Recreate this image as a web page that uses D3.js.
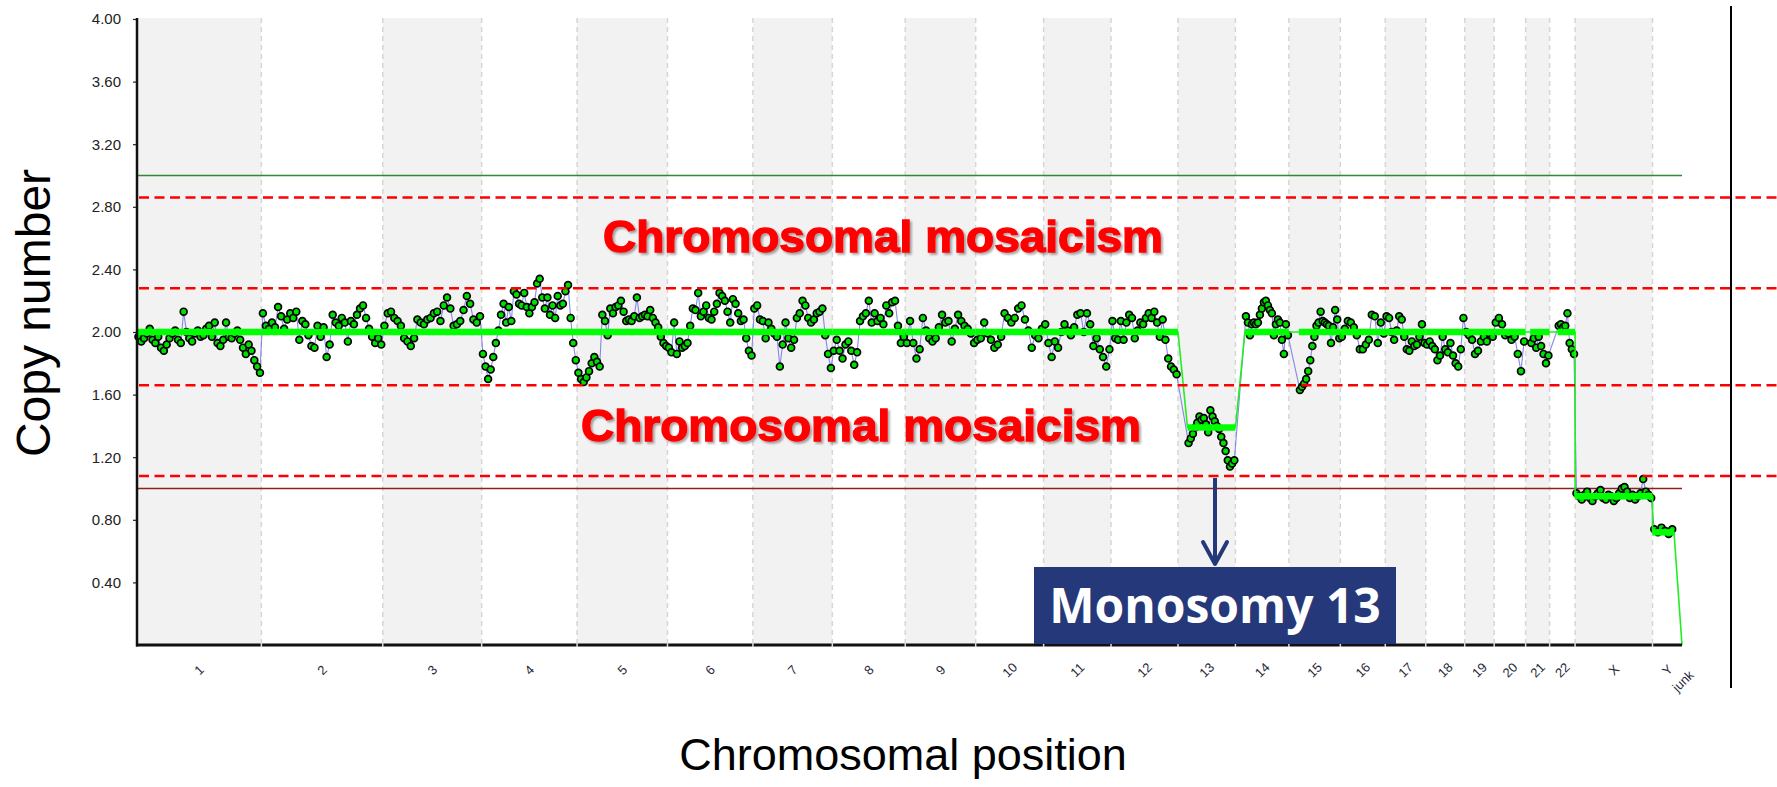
<!DOCTYPE html>
<html>
<head>
<meta charset="utf-8">
<script src="https://cdn.jsdelivr.net/npm/d3@7"></script>
<style>
  body { margin: 0; background: #fff; }
  svg { display: block; }
</style>
</head>
<body>
<div id="chart"></div>
<script>
// chromosome names and lengths (Mb)
var chromNames = ["1","2","3","4","5","6","7","8","9","10","11","12","13","14","15","16","17","18","19","20","21","22","X","Y"];
var chromSizes = [249,243,198,191,181,171,159,146,141,136,135,134,115,107,103,90,81,78,59,63,48,51,155,59];
// probe coverage inside each chromosome (Mb); acrocentric p-arms have none
var dataStart = [0,0,0,0,0,0,0,0,0,0,0,0,19,19,20,0,0,0,0,0,9,16,0,0];
var dataEnd   = [249,243,198,191,181,171,159,146,141,136,135,134,115,107,103,90,81,78,59,63,48,51,155,43];
// segmented copy number per chromosome
var segValues = [2,2,2,2,2,2,2,2,2,2,2,2,1.39,2,2,2,2,2,2,2,2,2,0.95,0.72];

// probe copy numbers
var cn1 = [1.97,1.94,1.96,1.99,2.02,1.95,1.93,1.97,1.90,1.88,1.92,1.96,1.99,2.01,1.95,1.93,2.13,2.00,1.96,1.94,1.99,2.01,1.97,1.98,2.02,2.04,1.97,2.06,1.93,1.91,1.95,2.06,1.97,1.96,1.99,2.01,1.95,1.90,1.86,1.92,1.88,1.82,1.78,1.74];
var cn2 = [2.12,2.04,2.02,2.06,2.03,2.16,2.10,2.02,2.08,2.12,2.09,2.13,1.95,2.07,2.05,1.98,1.91,1.90,2.04,1.97,2.03,1.84,1.92,2.11,2.06,2.04,2.09,2.06,1.94,2.07,2.05,2.11,2.15,2.17,2.09,2.02,1.97,1.93,1.96,1.92];
var cn3 = [2.04,2.12,2.13,2.09,2.07,2.04,1.96,1.94,1.91,1.96,2.08,2.06,2.05,2.08,2.09,2.12,2.13,2.07,2.17,2.22,2.15,2.04,2.05,2.07,2.14,2.23,2.18,2.08,2.06,2.10];
var cn4 = [1.86,1.78,1.70,1.76,1.84,1.93,2.01,2.11,2.18,2.06,2.16,2.07,2.26,2.24,2.18,2.17,2.25,2.16,2.12,2.16,2.19,2.31,2.34,2.22,2.15,2.22,2.11,2.17,2.09,2.23,2.17,2.18,2.26,2.30,2.09,1.93,1.82];
var cn5 = [1.74,1.70,1.68,1.71,1.75,1.80,1.84,1.81,1.78,2.11,2.07,1.98,2.15,2.12,2.16,2.17,2.20,2.13,2.07,2.08,2.07,2.10,2.22,2.09,2.10,2.11,2.10,2.14,2.09,2.06,2.03,1.97,1.93,1.91];
var cn6 = [1.90,1.87,2.06,1.86,1.94,1.90,1.91,1.93,2.04,2.15,2.14,2.25,2.10,2.13,2.17,2.09,2.08,2.13,2.18,2.25,2.23,2.20,2.13,2.06,2.21,2.18,2.12,2.07,2.08,1.96,1.88,1.85];
var cn7 = [2.15,2.17,2.08,2.07,1.96,2.06,2.02,1.99,1.97,1.78,1.92,2.06,1.96,1.90,1.95,2.09,2.12,2.20,2.17,2.09,2.06,2.08,2.12,2.13,2.15,1.98,1.86,1.77];
var cn8 = [1.88,1.95,1.88,1.83,1.92,1.94,1.88,1.79,1.87,2.07,2.10,2.12,2.20,2.06,2.12,2.07,2.09,2.05,2.17,2.12,2.19,2.20,2.04,1.93,1.97];
var cn9 = [1.93,2.07,1.93,1.83,1.89,2.09,2.01,1.96,1.94,1.96,2.03,2.11,2.06,2.07,1.94,2.02,2.11,2.07,2.04,2.02,1.99,1.93];
var cn10 = [1.95,1.96,2.06,1.99,1.95,1.90,1.92,1.97,2.12,2.09,2.06,2.09,2.15,2.17,2.08,2.01,1.90,1.98,1.96,2.02];
var cn11 = [2.05,1.93,1.84,1.94,1.90,2.00,2.05,2.01,1.98,2.03,2.11,2.12,2.00,2.12,2.05,1.91,1.96,1.89,1.84,1.78,1.89];
var cn12 = [2.07,1.96,1.95,2.07,1.95,2.06,2.11,2.09,1.96,2.01,2.06,2.05,2.09,2.12,2.09,2.13,2.06,1.97,2.08,1.95,1.83,1.78,1.76,1.73];
var cn13 = [1.29,1.32,1.35,1.39,1.42,1.46,1.44,1.45,1.41,1.36,1.50,1.46,1.43,1.40,1.38,1.33,1.29,1.24,1.18,1.14,1.16,1.18];
var cn14 = [2.10,2.06,1.98,2.05,2.06,2.05,2.06,2.11,2.15,2.19,2.20,2.17,2.14,2.12,1.98,2.05,2.08,2.06,1.95,1.86,2.05,1.98];
var cn15 = [1.63,1.65,1.67,1.70,1.75,1.82,1.91,1.97,2.04,2.06,2.13,2.07,2.06,2.05,2.04,1.93,2.03,2.14,2.08,1.96];
var cn16 = [1.97,2.02,2.07,2.06,2.03,1.98,1.89,1.89,1.92,1.95,2.11,2.10,1.93,2.06,1.99];
var cn17 = [2.10,2.09,2.00,1.95,2.01,2.10,2.08,1.97,1.89,1.88,1.94,1.91,1.92,1.97,2.05,1.93];
var cn18 = [1.92,1.94,1.91,1.89,1.82,1.85,1.97,1.89,1.87,1.93,1.85,1.80,1.78,1.89,2.09];
var cn19 = [2.00,1.98,1.95,1.86,1.88,1.94,1.97,1.94,1.99,1.97];
var cn20 = [2.06,2.09,2.05,1.98,1.99,1.95,1.97,1.86,1.75,1.94];
var cn21 = [1.93,1.96,1.90,1.97,1.91,1.86,1.80,1.85];
var cn22 = [2.04,2.05,2.03,2.04,2.12,1.93,1.89,1.86];
var cnX = [0.97,0.95,0.93,0.96,0.98,0.94,0.92,0.95,0.97,0.99,0.94,0.93,0.96,0.95,0.92,0.94,0.97,1.00,1.01,0.98,0.94,0.96,0.93,0.95,0.97,1.06,0.98,0.96,0.94];
var cnY = [0.74,0.72,0.75,0.73,0.71,0.74];
var chromValues = [cn1,cn2,cn3,cn4,cn5,cn6,cn7,cn8,cn9,cn10,cn11,cn12,cn13,cn14,cn15,cn16,cn17,cn18,cn19,cn20,cn21,cn22,cnX,cnY];

var yTicks = [0.4,0.8,1.2,1.6,2.0,2.4,2.8,3.2,3.6,4.0];
var gainLine = 3.0, lossLine = 1.0;
var mosaicLines = [2.86, 2.28, 1.66, 1.08];
var junkValue = 0;

var width = 1777, height = 787;

var offsets = [0];
chromSizes.forEach(function(s, i) { offsets.push(offsets[i] + s); });
var genome = offsets[offsets.length - 1];

var x = d3.scaleLinear().domain([0, genome]).range([137, 1682]);
var y = d3.scaleLinear().domain([0, 4]).range([645, 19]);

var svg = d3.select("#chart").append("svg")
    .attr("width", width)
    .attr("height", height);

var defs = svg.append("defs");
defs.append("filter").attr("id", "shadow")
    .attr("x", "-5%").attr("y", "-30%").attr("width", "110%").attr("height", "160%")
    .append("feDropShadow")
    .attr("dx", 2).attr("dy", 2).attr("stdDeviation", 1.3)
    .attr("flood-color", "#000").attr("flood-opacity", 0.35);

// alternating chromosome bands
svg.append("g").selectAll("rect")
    .data(chromNames)
    .enter().append("rect")
    .attr("x", (d, i) => x(offsets[i]))
    .attr("y", 18)
    .attr("width", (d, i) => x(offsets[i + 1]) - x(offsets[i]))
    .attr("height", y(0) - 18)
    .attr("fill", (d, i) => i % 2 === 0 ? "#f2f2f2" : "#fff");

// dashed boundaries
svg.append("g").selectAll("line")
    .data(offsets.slice(1, -1))
    .enter().append("line")
    .attr("x1", d => x(d)).attr("x2", d => x(d))
    .attr("y1", 18).attr("y2", y(0))
    .attr("stroke", "#d6d6d6")
    .attr("stroke-width", 1.5)
    .attr("stroke-dasharray", "5,4");

// reference lines at 3 and 1
svg.append("line")
    .attr("x1", x(0)).attr("x2", x(genome))
    .attr("y1", y(gainLine)).attr("y2", y(gainLine))
    .attr("stroke", "#2e8b2e").attr("stroke-width", 1.5);
svg.append("line")
    .attr("x1", x(0)).attr("x2", x(genome))
    .attr("y1", y(lossLine)).attr("y2", y(lossLine))
    .attr("stroke", "#8b2222").attr("stroke-width", 1.6);

// probes
var probes = [];
chromValues.forEach(function(vals, i) {
    var step = (dataEnd[i] - dataStart[i]) / vals.length;
    vals.forEach(function(v, j) {
        probes.push({pos: offsets[i] + dataStart[i] + (j + 0.5) * step, value: v});
    });
});

var line = d3.line().x(d => x(d.pos)).y(d => y(d.value));

svg.append("path")
    .datum(probes)
    .attr("d", line)
    .attr("fill", "none")
    .attr("stroke", "#7373e6")
    .attr("stroke-opacity", 0.85)
    .attr("stroke-width", 1.1);

svg.append("g").selectAll("circle")
    .data(probes)
    .enter().append("circle")
    .attr("cx", d => x(d.pos))
    .attr("cy", d => y(d.value))
    .attr("r", 3.4)
    .attr("fill", "#00e000")
    .attr("stroke", "#000")
    .attr("stroke-width", 1.7);

// segments
var segs = segValues.map(function(v, i) {
    return {x0: offsets[i] + dataStart[i], x1: offsets[i] + dataEnd[i], value: v};
});
var connector = [];
segs.forEach(function(s) {
    connector.push({pos: s.x0, value: s.value});
    connector.push({pos: s.x1, value: s.value});
});
connector.push({pos: genome, value: junkValue});

svg.append("path")
    .datum(connector)
    .attr("d", line)
    .attr("fill", "none")
    .attr("stroke", "#22ee22")
    .attr("stroke-width", 1.6);

svg.append("g").selectAll("line")
    .data(segs)
    .enter().append("line")
    .attr("x1", d => x(d.x0)).attr("x2", d => x(d.x1))
    .attr("y1", d => y(d.value)).attr("y2", d => y(d.value))
    .attr("stroke", "#00ff00")
    .attr("stroke-width", 6.5);

// axes
var yAxis = d3.axisLeft(y)
    .tickValues(yTicks)
    .tickSize(4)
    .tickPadding(12)
    .tickFormat(d3.format(".2f"));
var gy = svg.append("g")
    .attr("transform", `translate(${x(0)},0)`)
    .call(yAxis);
gy.select(".domain").remove();
gy.selectAll(".tick line").attr("stroke", "#222").attr("stroke-width", 1.2);
gy.selectAll(".tick text")
    .attr("fill", "#222")
    .style("font", "15px 'Liberation Sans', Arial, sans-serif");

svg.append("line")
    .attr("x1", x(0)).attr("x2", x(0))
    .attr("y1", 18).attr("y2", y(0) + 1.5)
    .attr("stroke", "#111").attr("stroke-width", 2.5);
svg.append("line")
    .attr("x1", x(0) - 1).attr("x2", x(genome))
    .attr("y1", y(0)).attr("y2", y(0))
    .attr("stroke", "#111").attr("stroke-width", 3);
svg.append("g").selectAll("line")
    .data(offsets.slice(1, -1))
    .enter().append("line")
    .attr("x1", d => x(d)).attr("x2", d => x(d))
    .attr("y1", y(0) - 2).attr("y2", y(0) + 2)
    .attr("stroke", "#ddd").attr("stroke-width", 1.5);

// chromosome labels
svg.append("g").selectAll("text")
    .data(chromNames)
    .enter().append("text")
    .attr("transform", (d, i) => `translate(${x(offsets[i] + chromSizes[i] / 2)},670) rotate(-45)`)
    .attr("text-anchor", "middle")
    .attr("dy", "0.35em")
    .attr("fill", "#2a2a3a")
    .style("font", "13px 'Liberation Sans', Arial, sans-serif")
    .text(d => d);
svg.append("text")
    .attr("transform", `translate(${x(genome) + 1},681) rotate(-45)`)
    .attr("text-anchor", "middle")
    .attr("dy", "0.35em")
    .attr("fill", "#2a2a3a")
    .style("font", "13px 'Liberation Sans', Arial, sans-serif")
    .text("junk");

// frame line on the right
svg.append("line")
    .attr("x1", 1731).attr("x2", 1731)
    .attr("y1", 6).attr("y2", 688)
    .attr("stroke", "#000").attr("stroke-width", 2);

// mosaicism thresholds
svg.append("g").selectAll("line")
    .data(mosaicLines)
    .enter().append("line")
    .attr("x1", x(0) + 2).attr("x2", width)
    .attr("y1", d => y(d)).attr("y2", d => y(d))
    .attr("stroke", "#ff0000")
    .attr("stroke-width", 2.5)
    .attr("stroke-dasharray", "10,5.5");

// annotations
var mosaicLabels = [{x: 603, y: 252}, {x: 581, y: 441}];
svg.append("g").selectAll("text")
    .data(mosaicLabels)
    .enter().append("text")
    .attr("x", d => d.x).attr("y", d => d.y)
    .attr("fill", "#ff0000")
    .attr("stroke", "#ff0000")
    .attr("stroke-width", 1.4)
    .attr("filter", "url(#shadow)")
    .attr("textLength", 560)
    .attr("lengthAdjust", "spacingAndGlyphs")
    .style("font", "bold 45px 'Liberation Sans', Arial, sans-serif")
    .text("Chromosomal mosaicism");

var navy = "#25397a";
svg.append("line")
    .attr("x1", 1215).attr("x2", 1215)
    .attr("y1", 478).attr("y2", 563)
    .attr("stroke", navy).attr("stroke-width", 4);
svg.append("polyline")
    .attr("points", "1203,542 1215,564 1227,542")
    .attr("fill", "none")
    .attr("stroke", navy).attr("stroke-width", 4)
    .attr("stroke-linecap", "round")
    .attr("stroke-linejoin", "round");

svg.append("rect")
    .attr("x", 1034).attr("y", 567)
    .attr("width", 362).attr("height", 77)
    .attr("fill", navy);
svg.append("text")
    .attr("x", 1215).attr("y", 623)
    .attr("text-anchor", "middle")
    .attr("fill", "#fff")
    .style("font", "bold 48px 'Open Sans', 'Noto Sans', sans-serif")
    .text("Monosomy 13");

// axis titles
svg.append("text")
    .attr("transform", "translate(50,313) rotate(-90)")
    .attr("text-anchor", "middle")
    .attr("fill", "#000")
    .style("font", "48px 'Liberation Sans', Arial, sans-serif")
    .text("Copy number");
svg.append("text")
    .attr("x", 903).attr("y", 770)
    .attr("text-anchor", "middle")
    .attr("fill", "#000")
    .style("font", "45px 'Liberation Sans', Arial, sans-serif")
    .text("Chromosomal position");
</script>
</body>
</html>
